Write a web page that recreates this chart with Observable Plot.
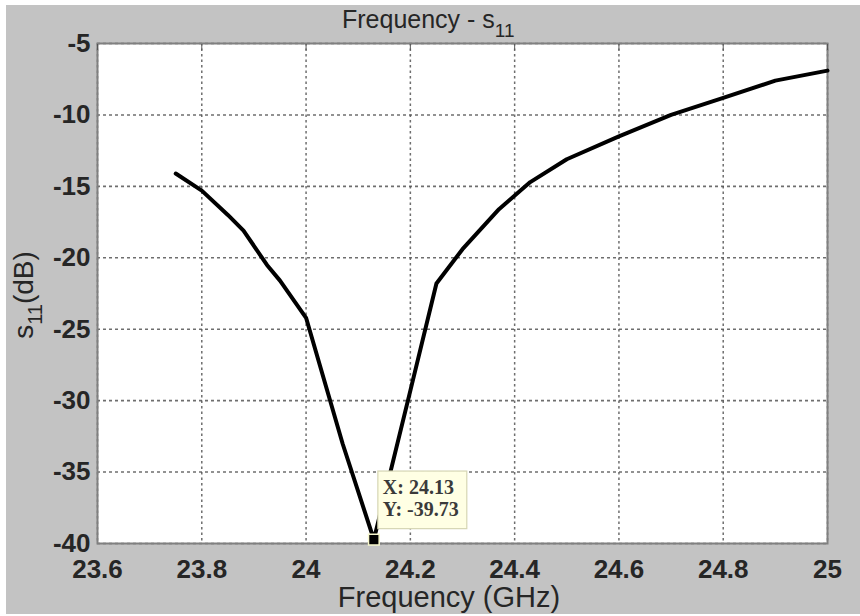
<!DOCTYPE html>
<html>
<head>
<meta charset="utf-8">
<script src="https://cdn.jsdelivr.net/npm/d3@7"></script>
<script src="https://cdn.jsdelivr.net/npm/@observablehq/plot@0.6"></script>
<style>
  html, body { margin: 0; padding: 0; background: #ffffff; }
  #chart { width: 860px; height: 616px; position: relative; overflow: hidden; background: #fff; }
  #chart svg { display: block; clip-path: inset(5px 0px 2px 6px); }
  .ticklab text { font-weight: bold; }
</style>
</head>
<body>
<div id="chart"></div>
<script>
// ---- data ----
const freq = [23.75, 23.8, 23.85, 23.88, 23.925, 23.95, 24.0, 24.07, 24.13, 24.2, 24.25, 24.3, 24.37, 24.43, 24.5, 24.6, 24.7, 24.8, 24.9, 25.0];
const s11  = [-14.1, -15.3, -17.0, -18.1, -20.5, -21.6, -24.2, -33.0, -39.73, -29.3, -21.8, -19.4, -16.6, -14.7, -13.1, -11.5, -10.0, -8.8, -7.6, -6.9];
const xTicks = [23.6, 23.8, 24, 24.2, 24.4, 24.6, 24.8, 25];
const yTicks = [-5, -10, -15, -20, -25, -30, -35, -40];
const tipX = [24.13];
const tipY = [-39.73];
const tipLines = ["X: 24.13", "Y: -39.73"];

const data = freq.map((f, i) => ({f, s: s11[i]}));
const tip = tipX.map((x, i) => ({x, y: tipY[i]}));

const W = 860, H = 616;
const font = "'Liberation Sans', Arial, sans-serif";
const ink = "#262626";

const plot = Plot.plot({
  width: W,
  height: H,
  marginLeft: 97,
  marginRight: 33,
  marginTop: 43,
  marginBottom: 73,
  style: {background: "#c3c3c3", fontFamily: font, fontSize: "26px", color: ink, overflow: "visible"},
  x: {domain: [23.6, 25], ticks: xTicks, label: null},
  y: {domain: [-40, -5], ticks: yTicks, label: null},
  marks: [
    Plot.frame({fill: "white", stroke: null}),
    Plot.gridX(xTicks, {stroke: "#555", strokeOpacity: 0.85, strokeDasharray: "2.5,3", strokeWidth: 1.5}),
    Plot.gridY(yTicks, {stroke: "#555", strokeOpacity: 0.85, strokeDasharray: "3,3", strokeWidth: 1.6}),
    Plot.frame({stroke: "#808080", strokeWidth: 2}),
    Plot.axisX(xTicks, {anchor: "top", tickSize: -6, tickFormat: () => "", stroke: "#555"}),
    Plot.axisX(xTicks, {anchor: "bottom", tickSize: 0, tickPadding: 16, fontSize: 26, fill: ink, className: "ticklab", tickFormat: d => String(d)}),
    Plot.axisY(yTicks, {anchor: "left", tickSize: 0, tickPadding: 7, fontSize: 26, fill: ink, className: "ticklab", tickFormat: d => String(d)}),
    Plot.line(data, {x: "f", y: "s", stroke: "#000", strokeWidth: 4, strokeLinejoin: "round"}),
    Plot.dot(tip, {x: "x", y: "y", symbol: "square", r: 6, fill: "#000", stroke: "#f7f7cc", strokeWidth: 1.5}),
    Plot.text(tip, {x: "x", y: "y", text: () => tipLines.join("\n"), textAnchor: "start", lineAnchor: "bottom",
      dx: 9, dy: -24, fontFamily: "'Liberation Serif', 'Times New Roman', serif", fontSize: 20, fontWeight: "bold",
      fill: "#3a3a3a", lineHeight: 1.08})
  ]
});

document.getElementById("chart").appendChild(plot);

const svg = d3.select(plot);

// data tip box behind the text
const tipText = Array.from(plot.querySelectorAll("text")).find(t => t.textContent.includes("X: 24.13"));
if (tipText) {
  const bb = tipText.getBBox();
  const r = d3.select(tipText.parentNode).insert("rect", () => tipText)
    .attr("x", bb.x - 5).attr("y", bb.y - 5)
    .attr("width", bb.width + 13).attr("height", bb.height + 14)
    .attr("fill", "#ffffe4").attr("stroke", "#d6d6b4").attr("stroke-width", 1.2);
  const tf = tipText.getAttribute("transform");
  if (tf) r.attr("transform", tf);
}

// title with subscript
const title = svg.append("text")
  .attr("x", 342).attr("y", 28)
  .attr("text-anchor", "start")
  .attr("font-family", font).attr("font-size", 25).attr("fill", ink);
title.append("tspan").text("Frequency - s");
title.append("tspan").attr("dy", 9).attr("font-size", 19).text("11");

// x-axis label
svg.append("text")
  .attr("x", 449).attr("y", 607)
  .attr("text-anchor", "middle")
  .attr("font-family", font).attr("font-size", 29).attr("fill", ink)
  .text("Frequency (GHz)");

// y-axis label with subscript
const yl = svg.append("text")
  .attr("transform", "translate(33,295) rotate(-90)")
  .attr("text-anchor", "middle")
  .attr("font-family", font).attr("font-size", 28).attr("fill", ink);
yl.append("tspan").text("s");
yl.append("tspan").attr("dy", 9).attr("font-size", 20).text("11");
yl.append("tspan").attr("dy", -9).text("(dB)");
</script>
</body>
</html>
